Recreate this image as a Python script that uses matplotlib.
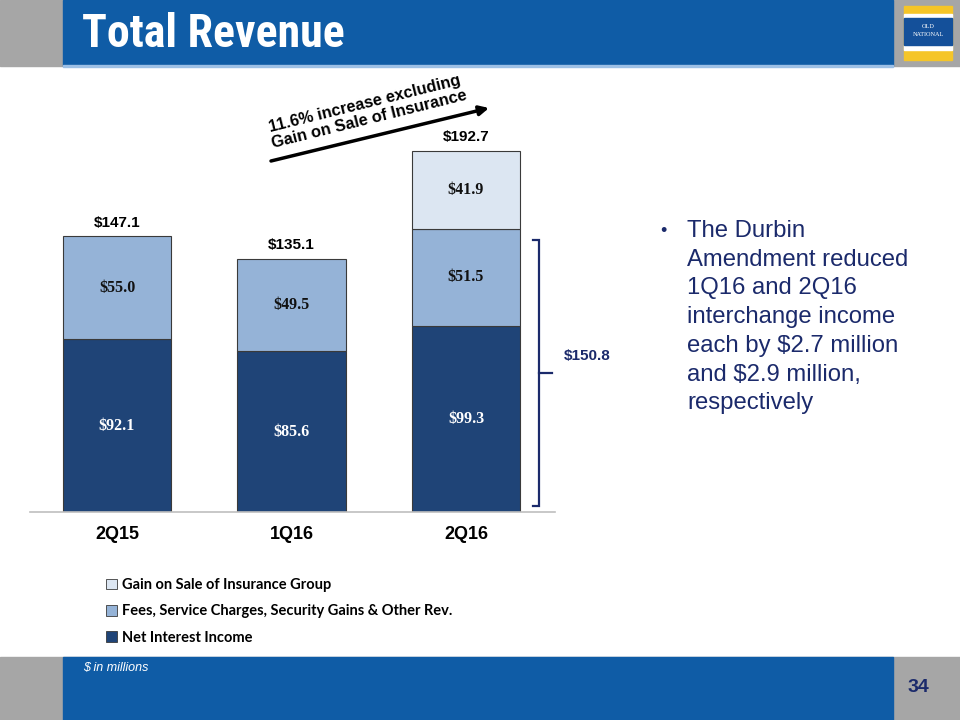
import matplotlib.pyplot as plt
from matplotlib import font_manager
from matplotlib.patches import Rectangle

quarters = ['2Q15', '1Q16', '2Q16']
net_interest = [92.1, 85.6, 99.3]
fees_other = [55.0, 49.5, 51.5]
gain_insurance = [0.0, 0.0, 41.9]
totals = [147.1, 135.1, 192.7]
legend_labels = ['Gain on Sale of Insurance Group',
                 'Fees, Service Charges, Security Gains & Other Rev.',
                 'Net Interest Income']
bullet_lines = ['The Durbin', 'Amendment reduced', '1Q16 and 2Q16',
                'interchange income', 'each by $2.7 million',
                'and $2.9 million,', 'respectively']

c_dark = '#1F4477'
c_mid = '#95B3D7'
c_light = '#DCE6F2'
c_edge = '#3a3a3a'
c_blue = '#0F5CA6'
c_gray = '#A6A6A6'
c_navy = '#1B2A6B'

# pick the narrowest bold face we can find for the slide title
prefs = ['Liberation Sans Narrow', 'Roboto Condensed', 'Open Sans Condensed',
         'Noto Sans', 'DejaVu Sans']
narrow = None
for p in prefs:
    for f in font_manager.fontManager.ttflist:
        is_bold = f.weight in ('bold', 700, 'heavy')
        is_narrow = ('Narrow' in f.name or 'Condensed' in f.name
                     or f.stretch in ('condensed', 'semi-condensed', 'extra-condensed'))
        if f.name.startswith(p) and is_bold and is_narrow:
            narrow = f.fname
            break
    if narrow:
        break

fig = plt.figure(figsize=(9.6, 7.2), dpi=100)

# background layer in pixel coordinates
bg = fig.add_axes([0, 0, 1, 1], zorder=0)
bg.set_xlim(0, 960)
bg.set_ylim(720, 0)
bg.axis('off')

# header
bg.add_patch(Rectangle((0, 0), 960, 66, color=c_gray))
bg.add_patch(Rectangle((63, 0), 830, 66, color=c_blue))
bg.add_patch(Rectangle((63, 65), 830, 1.5, color='#9DC0E6'))
if narrow:
    title_font = font_manager.FontProperties(fname=narrow, size=36)
else:
    title_font = font_manager.FontProperties(family='Liberation Sans', weight='bold', size=36)
title = bg.text(82, 34, 'Total Revenue', color='white', fontproperties=title_font,
                va='center', ha='left')
# shrink the title so it spans the same width as on the slide
r = fig.canvas.get_renderer()
tw = title.get_window_extent(r).width
title.set_fontsize(36 * 263 / tw)

# logo
bg.add_patch(Rectangle((904, 6), 48, 54, color='#F5C528'))
bg.add_patch(Rectangle((904, 14), 48, 4, color='white'))
bg.add_patch(Rectangle((904, 45), 48, 5, color='white'))
bg.add_patch(Rectangle((904, 18), 48, 27, color='#14509A'))
bg.text(928, 27, 'OLD', color='white', fontsize=4.5, family='Liberation Serif',
        ha='center', va='center')
bg.text(928, 35, 'NATIONAL', color='white', fontsize=4.5, family='Liberation Serif',
        ha='center', va='center')

# footer
bg.add_patch(Rectangle((0, 657), 960, 63, color=c_gray))
bg.add_patch(Rectangle((63, 657), 830, 63, color=c_blue))
bg.text(83, 668, '$ in millions', color='white', fontsize=9, style='italic',
        family='Liberation Sans', va='center', ha='left')
bg.text(918, 688, '34', color=c_navy, fontsize=14, fontweight='bold',
        family='Liberation Sans', va='center', ha='center')

# bullet text
bg.text(660, 231, '\u2022', color=c_navy, fontsize=13, family='Liberation Sans',
        va='center', ha='left')
for i, line in enumerate(bullet_lines):
    bg.text(687, 231 + i * 28.7, line, color=c_navy, fontsize=17.2,
            family='Liberation Sans', va='center', ha='left')

# arrow with rotated note
bg.annotate('', xy=(489, 108), xytext=(271, 161),
            arrowprops=dict(arrowstyle='-|>', color='black', lw=2.5,
                            mutation_scale=14, shrinkA=0, shrinkB=0))
bg.text(367, 112, '11.6% increase excluding\nGain on Sale of Insurance',
        rotation=14, rotation_mode='anchor', ha='center', va='center',
        multialignment='center', fontsize=11.8, fontweight='bold',
        family='Liberation Sans', linespacing=1.1)

# chart axes
ax = fig.add_axes([30 / 960, (720 - 512) / 720, 525 / 960, 432 / 720], zorder=1)
ax.patch.set_alpha(0)
x = list(range(len(quarters)))
w = 0.62
ax.bar(x, net_interest, w, color=c_dark, edgecolor=c_edge, linewidth=0.8)
ax.bar(x, fees_other, w, bottom=net_interest, color=c_mid,
       edgecolor=c_edge, linewidth=0.8)
base3 = [a + b for a, b in zip(net_interest, fees_other)]
gx = [i for i, g in enumerate(gain_insurance) if g > 0]
ax.bar(gx, [gain_insurance[i] for i in gx], w, bottom=[base3[i] for i in gx],
       color=c_light, edgecolor=c_edge, linewidth=0.8)

for i in x:
    ax.text(i, net_interest[i] / 2, f'${net_interest[i]:.1f}', color='white',
            ha='center', va='center', fontsize=11.5, fontweight='bold',
            family='Liberation Serif')
    ax.text(i, net_interest[i] + fees_other[i] / 2, f'${fees_other[i]:.1f}',
            color='#111111', ha='center', va='center', fontsize=11.5,
            fontweight='bold', family='Liberation Serif')
    if gain_insurance[i] > 0:
        ax.text(i, base3[i] + gain_insurance[i] / 2, f'${gain_insurance[i]:.1f}',
                color='#111111', ha='center', va='center', fontsize=11.5,
                fontweight='bold', family='Liberation Serif')
    ax.text(i, totals[i] + 3.5, f'${totals[i]:.1f}', ha='center', va='bottom',
            fontsize=11, fontweight='bold', family='Liberation Sans')

ax.set_xlim(-0.4986, 2.51)
ax.set_ylim(0, 230.3)
for s in ['top', 'right', 'left']:
    ax.spines[s].set_visible(False)
ax.spines['bottom'].set_color('#BFBFBF')
ax.spines['bottom'].set_linewidth(1.2)
ax.set_yticks([])
ax.set_xticks(x)
ax.set_xticklabels(quarters, fontsize=13, fontweight='bold', family='Liberation Sans')
ax.tick_params(axis='x', length=0, pad=10)

# bracket around NII + fees of last quarter
kept = base3[-1]
bx = 2.42
ax.plot([bx - 0.035, bx, bx, bx - 0.035], [145, 145, 3, 3], color=c_navy,
        lw=1.6, clip_on=False, solid_joinstyle='miter')
ax.plot([bx, bx + 0.07], [74, 74], color=c_navy, lw=1.6, clip_on=False)
ax.text(bx + 0.14, 83, f'${kept:.1f}', color=c_navy, fontsize=11,
        fontweight='bold', family='Liberation Sans', va='center', ha='left',
        clip_on=False)

# legend
handles = [Rectangle((0, 0), 1, 1, facecolor=c, edgecolor=c_edge, linewidth=0.6)
           for c in (c_light, c_mid, c_dark)]
fig.legend(handles, legend_labels, loc='upper left',
           bbox_to_anchor=(106 / 960, 1 - 578 / 720), frameon=False,
           handlelength=0.75, handleheight=0.75, handletextpad=0.35,
           labelspacing=0.85, borderaxespad=0, borderpad=0,
           prop={'family': ['Lato', 'DejaVu Sans'], 'weight': 'bold', 'size': 10.5})

fig.savefig('out.png', dpi=100)
